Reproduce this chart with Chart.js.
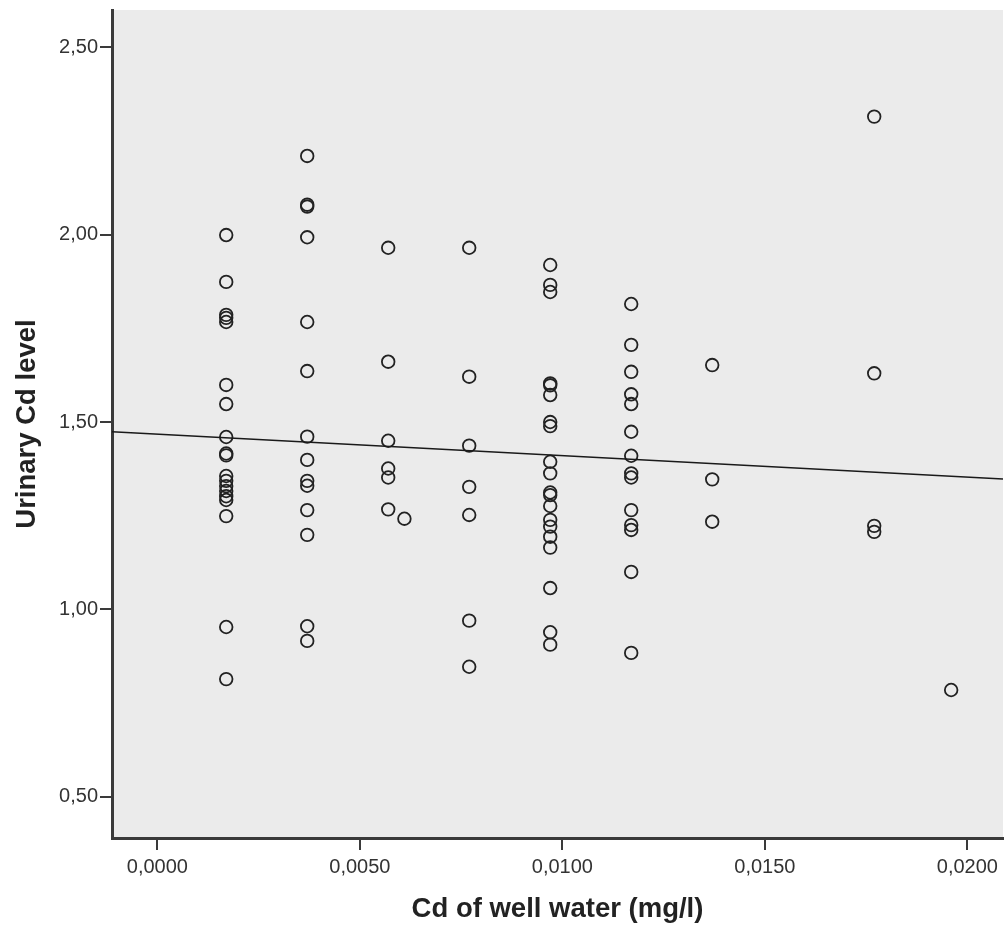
<!DOCTYPE html>
<html lang="en">
<head>
    <meta charset="UTF-8" />
    <title>Urinary Cd vs Cd of well water</title>
    <style>
        * { margin: 0; padding: 0; box-sizing: border-box; }
        html, body { background: #FFFFFF; overflow: hidden; }
        .chart-box { width: 1007px; height: 926px; position: relative; }
    </style>
</head>
<body>
    <div class="chart-box">
        <canvas id="cdChart"></canvas>
    </div>
    <script src="https://cdn.jsdelivr.net/npm/chart.js"></script>
    <script>
        // Cd of well water (mg/l), one row per water sample level
        const waterCd = [
            0.0017, 0.0017, 0.0017, 0.0017, 0.0017, 0.0017, 0.0017, 0.0017, 0.0017, 0.0017,
            0.0017, 0.0017, 0.0017, 0.0017, 0.0017, 0.0017, 0.0017, 0.0017, 0.0017,
            0.0037, 0.0037, 0.0037, 0.0037, 0.0037, 0.0037, 0.0037, 0.0037, 0.0037, 0.0037,
            0.0037, 0.0037, 0.0037, 0.0037,
            0.0057, 0.0057, 0.0057, 0.0057, 0.0057, 0.0057,
            0.0061,
            0.0077, 0.0077, 0.0077, 0.0077, 0.0077, 0.0077, 0.0077,
            0.0097, 0.0097, 0.0097, 0.0097, 0.0097, 0.0097, 0.0097, 0.0097, 0.0097, 0.0097,
            0.0097, 0.0097, 0.0097, 0.0097, 0.0097, 0.0097, 0.0097, 0.0097, 0.0097, 0.0097,
            0.0117, 0.0117, 0.0117, 0.0117, 0.0117, 0.0117, 0.0117, 0.0117, 0.0117, 0.0117,
            0.0117, 0.0117, 0.0117, 0.0117,
            0.0137, 0.0137, 0.0137,
            0.0177, 0.0177, 0.0177, 0.0177,
            0.0196
        ];

        // Urinary Cd level, same order as waterCd
        const urineCd = [
            1.999, 1.874, 1.786, 1.778, 1.767, 1.599, 1.548, 1.460, 1.416, 1.411,
            1.356, 1.343, 1.329, 1.316, 1.302, 1.292, 1.249, 0.953, 0.814,
            2.210, 2.080, 2.075, 1.993, 1.767, 1.636, 1.461, 1.399, 1.343, 1.330,
            1.265, 1.199, 0.955, 0.916,
            1.965, 1.661, 1.450, 1.376, 1.352, 1.267,
            1.242,
            1.965, 1.621, 1.437, 1.327, 1.252, 0.970, 0.847,
            1.919, 1.866, 1.847, 1.603, 1.598, 1.572, 1.500, 1.489, 1.394, 1.363,
            1.312, 1.305, 1.276, 1.239, 1.221, 1.194, 1.165, 1.057, 0.939, 0.906,
            1.815, 1.706, 1.634, 1.574, 1.548, 1.474, 1.410, 1.363, 1.352, 1.265,
            1.225, 1.212, 1.100, 0.884,
            1.652, 1.347, 1.234,
            2.315, 1.630, 1.223, 1.207,
            0.785
        ];

        // fit line, read at both ends of the x axis
        const fitX = [-0.00112, 0.02088];
        const fitY = [1.474, 1.348];

        const xTicks = [0.0000, 0.0050, 0.0100, 0.0150, 0.0200];
        const yTicks = [0.50, 1.00, 1.50, 2.00, 2.50];

        const FONT = "'Liberation Sans', Arial, sans-serif";
        const AXIS = '#3a3a3a';

        // grey plot background
        const plotBg = {
            id: 'plotBg',
            beforeDraw(chart) {
                const { ctx, chartArea: a } = chart;
                ctx.save();
                ctx.fillStyle = '#EBEBEB';
                ctx.fillRect(a.left, a.top, a.right - a.left, a.bottom - a.top);
                ctx.restore();
            }
        };

        const comma = (v, d) => v.toFixed(d).replace('.', ',');

        new Chart(document.getElementById('cdChart'), {
            type: 'scatter',
            data: {
                datasets: [{
                    label: 'Urinary Cd level',
                    data: waterCd.map((x, i) => ({ x: x, y: urineCd[i] })),
                    pointStyle: 'circle',
                    pointRadius: 6.3,
                    pointBackgroundColor: 'rgba(0,0,0,0)',
                    pointBorderColor: '#222222',
                    pointBorderWidth: 1.8,
                    order: 2
                }, {
                    type: 'line',
                    label: 'Fit',
                    data: fitX.map((x, i) => ({ x: x, y: fitY[i] })),
                    borderColor: '#1a1a1a',
                    borderWidth: 1.5,
                    pointRadius: 0,
                    fill: false,
                    order: 1
                }]
            },
            options: {
                responsive: true,
                maintainAspectRatio: false,
                animation: false,
                layout: {
                    autoPadding: false,
                    padding: { top: 10, right: 4, left: 0, bottom: 0 }
                },
                plugins: {
                    legend: { display: false },
                    tooltip: { enabled: false }
                },
                scales: {
                    x: {
                        type: 'linear',
                        min: -0.00112,
                        max: 0.02088,
                        afterFit: s => {
                            s.height = 88;
                            s.paddingLeft = 0;
                            s.paddingRight = 0;
                        },
                        afterBuildTicks: s => { s.ticks = xTicks.map(v => ({ value: v })); },
                        border: { color: AXIS, width: 3 },
                        grid: { drawOnChartArea: false, drawTicks: true, tickLength: 12, color: AXIS, lineWidth: 2 },
                        ticks: {
                            color: '#333333',
                            font: { family: FONT, size: 20 },
                            padding: 5,
                            maxRotation: 0,
                            callback: v => comma(v, 4)
                        },
                        title: {
                            display: true,
                            text: 'Cd of well water (mg/l)',
                            color: '#222222',
                            font: { family: FONT, size: 27.5, weight: 'bold' },
                            padding: { top: 0, bottom: 0 }
                        }
                    },
                    y: {
                        type: 'linear',
                        min: 0.39,
                        max: 2.5995,
                        afterFit: s => {
                            s.width = 112;
                            s.paddingTop = 0;
                            s.paddingBottom = 0;
                        },
                        afterBuildTicks: s => { s.ticks = yTicks.map(v => ({ value: v })); },
                        border: { color: AXIS, width: 3 },
                        grid: { drawOnChartArea: false, drawTicks: true, tickLength: 12, color: AXIS, lineWidth: 2 },
                        ticks: {
                            color: '#333333',
                            font: { family: FONT, size: 20 },
                            padding: 2,
                            callback: v => comma(v, 2)
                        },
                        title: {
                            display: true,
                            text: 'Urinary Cd level',
                            color: '#222222',
                            font: { family: FONT, size: 27.5, weight: 'bold' },
                            padding: { top: 11, bottom: 0 }
                        }
                    }
                }
            },
            plugins: [plotBg]
        });
    </script>
</body>
</html>
